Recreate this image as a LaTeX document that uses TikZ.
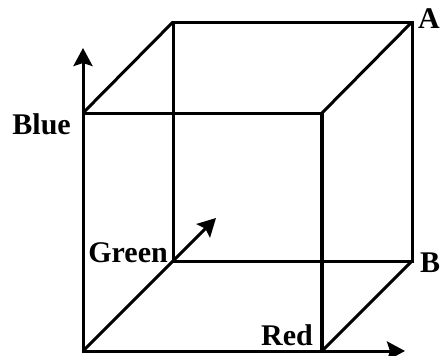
\documentclass[tikz,border=0pt]{standalone}
\usepackage{fontspec}
\setmainfont{Liberation Serif}
\usepackage{tikz}
\usetikzlibrary{arrows.meta}

\begin{document}
\begin{tikzpicture}[x=1pt, y=-1pt, line join=miter,
   edge/.style={line width=3pt},
   axis/.style={line width=3pt, -{Stealth[length=18pt,width=19pt,inset=3pt]}},
   lbl/.style={font=\fontsize{30}{32}\selectfont\bfseries, inner sep=0pt}]
   \path[use as bounding box] (0,0) rectangle (442,356); % same size as the scan

   % front face
   \coordinate (fbl) at (83,351);
   \coordinate (fbr) at (322,351);
   \coordinate (ftr) at (322,113);
   \coordinate (ftl) at (83,113);
   % back face
   \coordinate (bbl) at (173,261);
   \coordinate (bbr) at (412,261);
   \coordinate (btr) at (412,22);
   \coordinate (btl) at (173,22);
   % axis tips
   \coordinate (blueTip) at (83,48);
   \coordinate (redTip) at (405,351);
   \coordinate (greenTip) at (216,218);

   \draw[edge] (fbl) -- (fbr) -- (ftr) -- (ftl) -- cycle;
   \draw[edge] (bbl) -- (bbr) -- (btr) -- (btl) -- cycle;
   \draw[edge] (fbl) -- (bbl);
   \draw[edge] (fbr) -- (bbr);
   \draw[edge] (ftr) -- (btr);
   \draw[edge] (ftl) -- (btl);
   \draw[line width=4pt] (fbr) -- (ftr); % front right edge is heavier

   \draw[axis] (ftl) -- (blueTip);
   \draw[axis] (fbr) -- (redTip);
   \draw[axis] (bbl) -- (greenTip);

   \node[lbl, anchor=base east] (blue) at (71,134) {Blue};
   \node[lbl, anchor=base east] (green) at (168,262) {Green};
   \node[lbl, anchor=base east] (red) at (313,345) {Red};
   \node[lbl, anchor=base west] (a) at (418,28) {A};
   \node[lbl, anchor=base west] (b) at (420,272) {B};
\end{tikzpicture}
\end{document}
